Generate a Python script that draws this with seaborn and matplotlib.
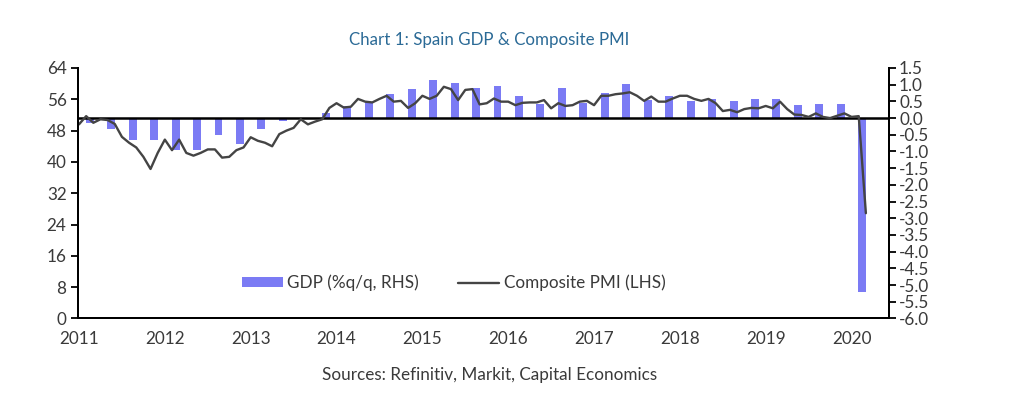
import numpy as np
import pandas as pd
import matplotlib
matplotlib.use("Agg")
import matplotlib.pyplot as plt
import seaborn as sns
from matplotlib.patches import Patch
from matplotlib.lines import Line2D

# ---------------- data ----------------
gdp_quarters = [f"{y}Q{q}" for y in range(2011, 2020) for q in range(1, 5)] + ["2020Q1"]
gdp_values = [
    -0.15, -0.32, -0.66, -0.65,   # 2011
    -0.97, -0.97, -0.52, -0.78,   # 2012
    -0.33, -0.10, -0.03, 0.15,    # 2013
    0.36, 0.49, 0.73, 0.86,       # 2014
    1.15, 1.05, 0.91, 0.96,       # 2015
    0.67, 0.43, 0.90, 0.46,       # 2016
    0.75, 1.03, 0.53, 0.67,       # 2017
    0.50, 0.58, 0.50, 0.57,       # 2018
    0.57, 0.39, 0.42, 0.42,       # 2019
    -5.20,                        # 2020
]
pmi_months = pd.period_range("2011-01", "2020-03", freq="M").strftime("%Y-%m").tolist()
pmi_values = [
    49.6, 51.7, 50.0, 50.9, 50.7, 49.7, 46.4, 44.9, 43.7, 41.3, 38.2, 42.3,  # 2011
    45.7, 43.0, 45.7, 42.3, 41.6, 42.3, 43.2, 43.2, 41.1, 41.3, 43.0, 43.7,  # 2012
    46.3, 45.4, 44.9, 44.0, 47.1, 48.0, 48.7, 50.9, 49.6, 50.3, 50.9, 53.8,  # 2013
    55.0, 53.9, 54.1, 56.1, 55.4, 55.2, 56.1, 56.9, 55.4, 55.6, 53.8, 55.0,  # 2014
    56.9, 56.1, 56.9, 59.2, 58.6, 55.8, 58.4, 58.6, 54.7, 55.0, 56.2, 55.4,  # 2015
    55.4, 54.5, 55.1, 55.2, 55.2, 55.8, 53.7, 55.0, 54.3, 54.5, 55.4, 55.6,  # 2016
    54.5, 56.9, 56.9, 57.3, 57.5, 57.8, 56.9, 55.6, 56.7, 55.4, 55.4, 56.2,  # 2017
    56.9, 56.9, 56.1, 55.6, 56.1, 55.0, 53.0, 53.3, 52.7, 53.5, 53.8, 53.7,  # 2018
    54.3, 53.7, 55.4, 53.5, 52.1, 52.0, 51.5, 52.4, 51.5, 51.2, 51.8, 52.4,  # 2019
    51.5, 51.7, 26.9,                                                        # 2020
]
year_ticks = list(range(2011, 2021))
left_ticks = [0, 8, 16, 24, 32, 40, 48, 56, 64]
right_ticks = [1.5, 1.0, 0.5, 0.0, -0.5, -1.0, -1.5, -2.0, -2.5, -3.0, -3.5,
               -4.0, -4.5, -5.0, -5.5, -6.0]

title_text = "Chart 1: Spain GDP & Composite PMI"
source_text = "Sources: Refinitiv, Markit, Capital Economics"
gdp_label = "GDP (%q/q, RHS)"
pmi_label = "Composite PMI (LHS)"

# -------- positions as decimal years --------
def quarter_pos(s):
    y, q = int(s[:4]), int(s[-1])
    return y + (3 * (q - 1) + 1.5) / 12.0

def month_pos(s):
    y, m = int(s[:4]), int(s[5:7])
    return y + (m - 1) / 12.0

gdp_df = pd.DataFrame({"x": [quarter_pos(q) for q in gdp_quarters], "gdp": gdp_values})
pmi_df = pd.DataFrame({"x": [month_pos(m) for m in pmi_months], "pmi": pmi_values})

# ---------------- style ----------------
sns.set_style("white")
plt.rcParams["font.family"] = ["Lato", "DejaVu Sans"]
text_color = "#3a3a3a"
bar_color = "#7b7bf4"
line_color = "#444444"
fs = 12.3

fig = plt.figure(figsize=(10.24, 3.99), dpi=100)
ax = fig.add_axes([0.0759, 0.2018, 0.7926, 0.6278])   # bars (right scale)
ax2 = ax.twinx()                                      # line (left scale)

sns.barplot(data=gdp_df, x="x", y="gdp", native_scale=True, ax=ax,
            color=bar_color, saturation=1, width=0.37, linewidth=0, errorbar=None)
ax.axhline(0, color="black", lw=1.8, zorder=3)

sns.lineplot(data=pmi_df, x="x", y="pmi", ax=ax2, color=line_color, lw=1.7)

# axes limits
xlim = (2010.985, 2020.44)
ax.set_xlim(*xlim)
ax2.set_xlim(*xlim)
ax.set_ylim(-6, 1.5)
ax2.set_ylim(0, 64)

# right scale on ax (primary) -> show on right
ax.yaxis.tick_right()
ax.yaxis.set_label_position("right")
ax.set_yticks(right_ticks)
ax.set_yticklabels([f"{v:.1f}" for v in right_ticks])
ax2.yaxis.tick_left()
ax2.yaxis.set_label_position("left")
ax2.set_yticks(left_ticks)
ax2.set_yticklabels([str(v) for v in left_ticks])

ax.set_xticks(year_ticks)
ax.set_xticklabels([str(y) for y in year_ticks])
ax2.set_xticks(year_ticks)

for a in (ax, ax2):
    a.set_xlabel("")
    a.set_ylabel("")
    a.spines["top"].set_visible(False)
    for s in ("left", "right", "bottom"):
        a.spines[s].set_linewidth(1.4)
        a.spines[s].set_color("black")
    a.grid(False)

ax.tick_params(axis="y", direction="out", length=5, width=1.3, color="black",
               labelsize=fs, labelcolor=text_color, pad=2, left=False, right=True)
ax2.tick_params(axis="y", direction="out", length=5, width=1.3, color="black",
                labelsize=fs, labelcolor=text_color, pad=3, left=True, right=False)
ax.tick_params(axis="x", direction="in", length=4, width=1.3, color="black",
               labelsize=fs, labelcolor=text_color, pad=9)
ax2.tick_params(axis="x", bottom=False, labelbottom=False)

# legend
handles = [Patch(facecolor=bar_color, edgecolor="none"),
           Line2D([0], [0], color=line_color, lw=1.7)]
leg = fig.legend(handles, [gdp_label, pmi_label], loc="center left",
                 bbox_to_anchor=(0.2214, 1 - 283 / 399), bbox_transform=fig.transFigure,
                 ncol=2, frameon=False, fontsize=fs, handlelength=2.4,
                 handleheight=0.55, handletextpad=0.25, columnspacing=2.3,
                 labelcolor=text_color)

fig.text(0.478, 1 - 40 / 399, title_text, ha="center", va="center",
         fontsize=12.2, color="#2b6a96")
fig.text(0.478, 1 - 375 / 399, source_text, ha="center", va="center",
         fontsize=fs, color=text_color)

fig.savefig("out.png", dpi=100)
